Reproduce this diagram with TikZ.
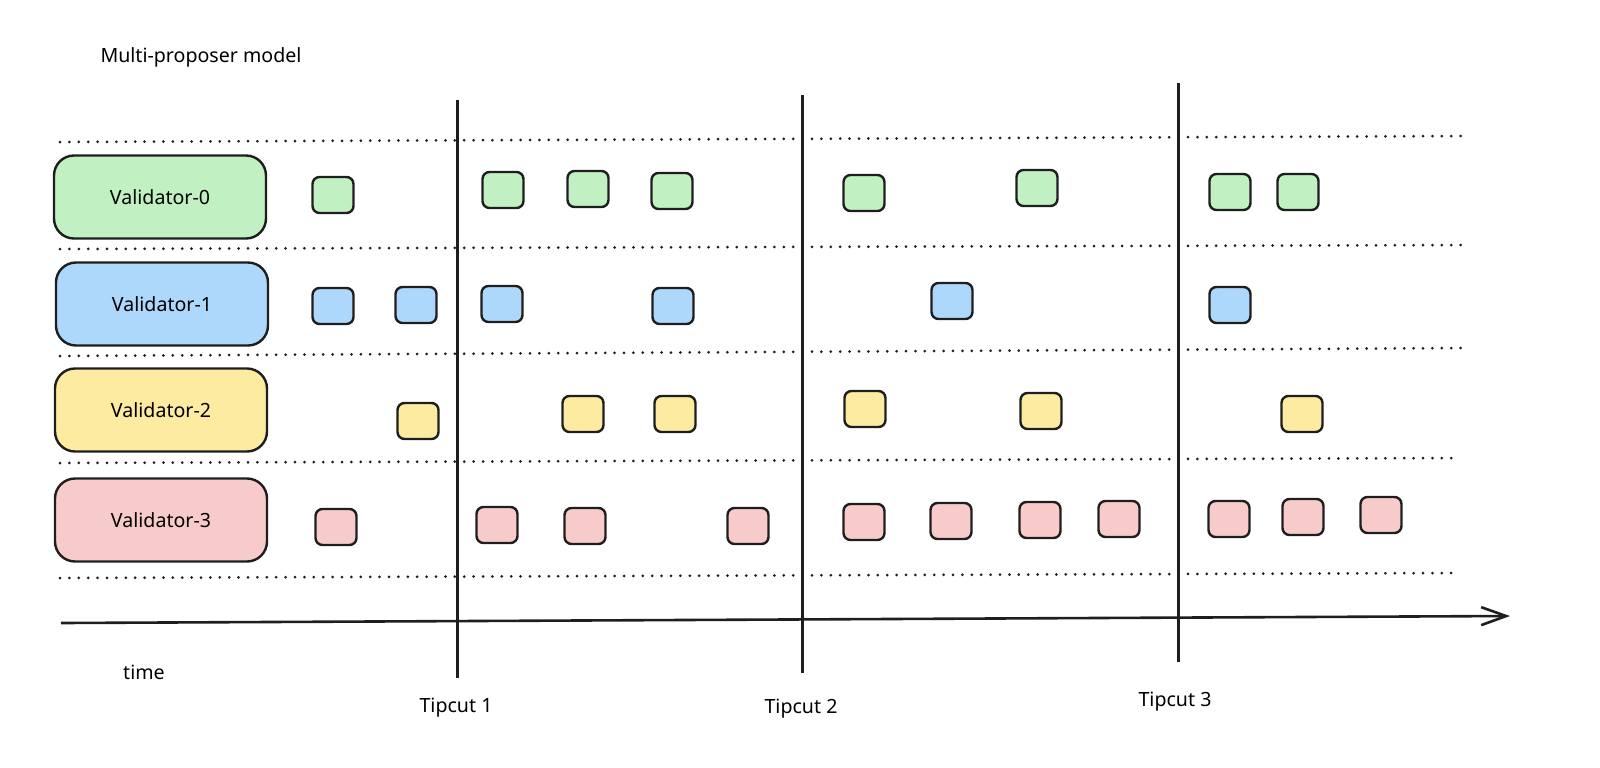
\documentclass[tikz,border=0pt]{standalone}
\usepackage{fontspec}
\setmainfont{Noto Sans}
\usetikzlibrary{arrows.meta,positioning}
\definecolor{mint}{HTML}{C1F0C2}
\definecolor{sky}{HTML}{AED8FB}
\definecolor{butter}{HTML}{FCEBA1}
\definecolor{blush}{HTML}{F8CBCB}
\definecolor{ink}{HTML}{1E1E1E}

\begin{document}
\begin{tikzpicture}[x=0.5pt, y=-0.5pt, font=\fontsize{9.8}{12}\selectfont,
  lane/.style={ink, line width=1.5pt, dash pattern=on 0pt off 4.7pt, line cap=round},
  validator/.style={draw=ink, line width=1.2pt, rounded corners=10pt, minimum width=106pt, minimum height=41.5pt},
  blk/.style={draw=ink, line width=1.2pt, rounded corners=3.5pt, minimum width=20.5pt, minimum height=18pt, inner sep=0pt},
  cut/.style={ink, line width=1.5pt}]
  \useasboundingbox (0,0) rectangle (1600,767);

  \node (title) at (201,57) {Multi-proposer model};

  % lanes
  \foreach \i/\yl/\yr/\xr in {0/142/136/1466, 1/249/245/1466, 2/356/348/1466, 3/463/458/1459, 4/578/573/1457}{
    \coordinate (lane\i-w) at (60,\yl);
    \coordinate (lane\i-e) at (\xr,\yr);
    \draw[lane] (lane\i-w) -- (lane\i-e);
  }

  % tipcuts
  \foreach \x/\top/\bot/\lx/\ly [count=\i] in {457/100/678/456/708, 802/95/673/801/709, 1178/83/662/1175/702}{
    \coordinate (cut\i-top) at (\x,\top);
    \coordinate (cut\i-bot) at (\x,\bot);
    \draw[cut] (cut\i-top) -- (cut\i-bot);
    \node (tip\i) at (\lx,\ly) {Tipcut \i};
  }

  % time axis
  \coordinate (axis-w) at (61,623);
  \coordinate (axis-e) at (1510,616);
  \draw[ink, line width=1.3pt, -{Straight Barb[length=12.5pt,width=9pt]}] (axis-w) -- (axis-e);
  \node (timelbl) at (144,672) {time};

  % validators
  \node[validator, fill=mint] (val0) at (160,197) {Validator-0};
  \node[validator, fill=sky] (val1) at (162,304) {Validator-1};
  \node[validator, fill=butter] (val2) at (161,410) {Validator-2};
  \node[validator, fill=blush] (val3) at (161,520) {Validator-3};

  % proposed blocks
  \foreach \x/\y [count=\i] in {333/195, 503/190, 588/189, 672/191, 864/193, 1037/188, 1230/192, 1298/192}
    \node[blk, fill=mint] (g\i) at (\x,\y) {};
  \foreach \x/\y [count=\i] in {333/306, 416/305, 502/304, 673/306, 952/301, 1230/305}
    \node[blk, fill=sky] (b\i) at (\x,\y) {};
  \foreach \x/\y [count=\i] in {418/421, 583/414, 675/414, 865/409, 1041/411, 1302/414}
    \node[blk, fill=butter] (y\i) at (\x,\y) {};
  \foreach \x/\y [count=\i] in {336/527, 497/525, 585/526, 748/526, 864/522, 951/521, 1040/520, 1119/519, 1229/519, 1303/517, 1381/515}
    \node[blk, fill=blush] (r\i) at (\x,\y) {};
\end{tikzpicture}
\end{document}
